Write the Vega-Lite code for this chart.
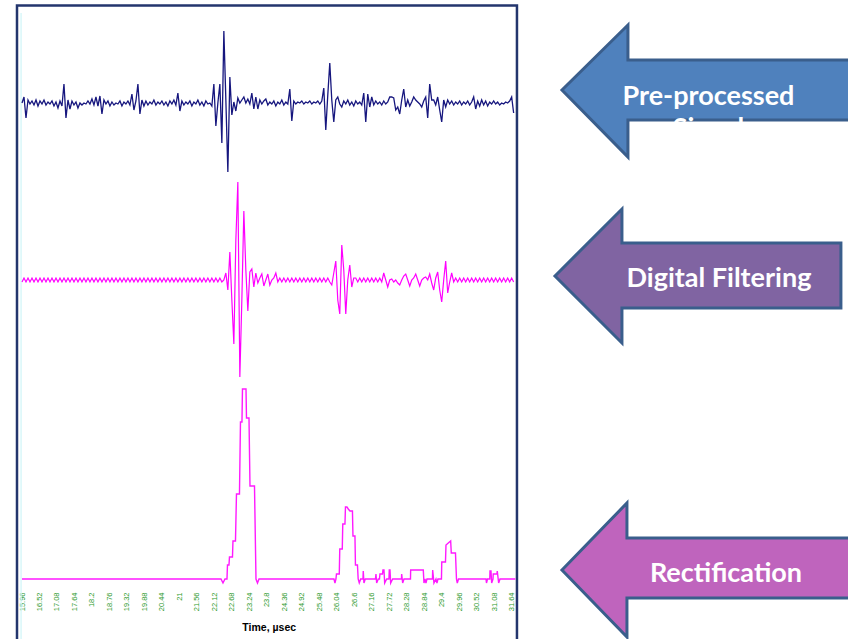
{
  "$schema": "https://vega.github.io/schema/vega-lite/v6.json",
  "width": 848,
  "height": 639,
  "autosize": {"type": "none"},
  "padding": 0,
  "background": "white",
  "config": {"view": {"stroke": null}},
  "datasets": {
    "signals": [
      {"t":15.96,"a":48.0,"b":30.1},{"t":16.024,"a":48.6,"b":30.5},{"t":16.088,"a":46.5,"b":30.1},{"t":16.152,"a":48.3,"b":30.5},{"t":16.216,"a":47.9,"b":30.1},{"t":16.28,"a":48.2,"b":30.5},{"t":16.344,"a":47.8,"b":30.1},{"t":16.408,"a":48.3,"b":30.5},{"t":16.472,"a":47.7,"b":30.1},{"t":16.536,"a":48.2,"b":30.5},
      {"t":16.6,"a":47.9,"b":30.1},{"t":16.664,"a":48.3,"b":30.5},{"t":16.728,"a":47.8,"b":30.1},{"t":16.792,"a":48.1,"b":30.5},{"t":16.856,"a":47.9,"b":30.1},{"t":16.92,"a":48.2,"b":30.5},{"t":16.984,"a":47.7,"b":30.1},{"t":17.048,"a":48.1,"b":30.5},{"t":17.112,"a":47.5,"b":30.1},{"t":17.176,"a":48.2,"b":30.5},
      {"t":17.24,"a":47.7,"b":30.1},{"t":17.304,"a":49.9,"b":30.5},{"t":17.368,"a":46.5,"b":30.1},{"t":17.432,"a":48.3,"b":30.5},{"t":17.496,"a":47.4,"b":30.1},{"t":17.56,"a":48.2,"b":30.5},{"t":17.624,"a":47.8,"b":30.1},{"t":17.688,"a":48.1,"b":30.5},{"t":17.752,"a":47.5,"b":30.1},{"t":17.816,"a":48.0,"b":30.5},
      {"t":17.88,"a":47.8,"b":30.1},{"t":17.944,"a":48.0,"b":30.5},{"t":18.008,"a":47.9,"b":30.1},{"t":18.072,"a":48.2,"b":30.5},{"t":18.136,"a":47.9,"b":30.1},{"t":18.2,"a":48.4,"b":30.5},{"t":18.264,"a":47.8,"b":30.1},{"t":18.328,"a":48.6,"b":30.5},{"t":18.392,"a":47.7,"b":30.1},{"t":18.456,"a":48.7,"b":30.5},
      {"t":18.52,"a":46.9,"b":30.1},{"t":18.584,"a":48.3,"b":30.5},{"t":18.648,"a":47.9,"b":30.1},{"t":18.712,"a":48.2,"b":30.5},{"t":18.776,"a":47.7,"b":30.1},{"t":18.84,"a":48.1,"b":30.5},{"t":18.904,"a":47.8,"b":30.1},{"t":18.968,"a":48.0,"b":30.5},{"t":19.032,"a":47.9,"b":30.1},{"t":19.096,"a":48.2,"b":30.5},
      {"t":19.16,"a":47.7,"b":30.1},{"t":19.224,"a":48.1,"b":30.5},{"t":19.288,"a":47.9,"b":30.1},{"t":19.352,"a":48.2,"b":30.5},{"t":19.416,"a":47.8,"b":30.1},{"t":19.48,"a":48.9,"b":30.5},{"t":19.544,"a":47.3,"b":30.1},{"t":19.608,"a":48.2,"b":30.5},{"t":19.672,"a":49.9,"b":30.1},{"t":19.736,"a":46.9,"b":30.5},
      {"t":19.8,"a":48.3,"b":30.1},{"t":19.864,"a":47.7,"b":30.5},{"t":19.928,"a":48.2,"b":30.1},{"t":19.992,"a":47.8,"b":30.5},{"t":20.056,"a":48.1,"b":30.1},{"t":20.12,"a":47.9,"b":30.5},{"t":20.184,"a":48.3,"b":30.1},{"t":20.248,"a":47.8,"b":30.5},{"t":20.312,"a":48.1,"b":30.1},{"t":20.376,"a":47.9,"b":30.5},
      {"t":20.44,"a":48.2,"b":30.1},{"t":20.504,"a":47.8,"b":30.5},{"t":20.568,"a":48.1,"b":30.1},{"t":20.632,"a":47.7,"b":30.5},{"t":20.696,"a":48.2,"b":30.1},{"t":20.76,"a":47.9,"b":30.5},{"t":20.824,"a":48.3,"b":30.1},{"t":20.888,"a":47.8,"b":30.5},{"t":20.952,"a":49.0,"b":30.1},{"t":21.016,"a":47.2,"b":30.5},
      {"t":21.08,"a":48.2,"b":30.1},{"t":21.144,"a":47.8,"b":30.5},{"t":21.208,"a":48.1,"b":30.1},{"t":21.272,"a":47.9,"b":30.5},{"t":21.336,"a":48.2,"b":30.1},{"t":21.4,"a":47.7,"b":30.5},{"t":21.464,"a":48.1,"b":30.1},{"t":21.528,"a":47.9,"b":30.5},{"t":21.592,"a":48.3,"b":30.1},{"t":21.656,"a":47.8,"b":30.5},
      {"t":21.72,"a":48.1,"b":30.1},{"t":21.784,"a":47.7,"b":30.5},{"t":21.848,"a":48.2,"b":30.1},{"t":21.912,"a":47.9,"b":30.5},{"t":21.976,"a":48.0,"b":30.1},{"t":22.04,"a":47.7,"b":30.5},{"t":22.104,"a":49.9,"b":30.1},{"t":22.168,"a":45.7,"b":30.5},{"t":22.232,"a":48.0,"b":30.1},{"t":22.296,"a":49.9,"b":30.5},
      {"t":22.36,"a":44.0,"b":30.1},{"t":22.424,"a":55.2,"b":30.3},{"t":22.488,"a":48.3,"b":31.0},{"t":22.552,"a":41.1,"b":29.3},{"t":22.616,"a":50.6,"b":33.1},{"t":22.68,"a":46.8,"b":28.3},{"t":22.744,"a":48.1,"b":23.9},{"t":22.808,"a":47.2,"b":34.3},{"t":22.872,"a":48.5,"b":40.1},{"t":22.936,"a":48.0,"b":20.6},
      {"t":23.0,"a":48.3,"b":28.3},{"t":23.064,"a":48.6,"b":37.2},{"t":23.128,"a":48.0,"b":31.3},{"t":23.192,"a":48.4,"b":27.2},{"t":23.256,"a":47.9,"b":31.1},{"t":23.32,"a":49.0,"b":31.4},{"t":23.384,"a":47.4,"b":29.6},{"t":23.448,"a":48.6,"b":31.0},{"t":23.512,"a":47.4,"b":30.0},{"t":23.576,"a":48.3,"b":30.5},
      {"t":23.64,"a":47.9,"b":30.9},{"t":23.704,"a":48.2,"b":29.7},{"t":23.768,"a":48.4,"b":30.3},{"t":23.832,"a":47.8,"b":30.9},{"t":23.896,"a":48.1,"b":29.8},{"t":23.96,"a":47.9,"b":30.3},{"t":24.024,"a":48.2,"b":30.5},{"t":24.088,"a":47.7,"b":31.0},{"t":24.152,"a":48.1,"b":30.1},{"t":24.216,"a":47.9,"b":30.5},
      {"t":24.28,"a":48.3,"b":30.1},{"t":24.344,"a":47.8,"b":30.5},{"t":24.408,"a":48.1,"b":30.1},{"t":24.472,"a":47.9,"b":30.5},{"t":24.536,"a":49.4,"b":30.1},{"t":24.6,"a":46.2,"b":30.5},{"t":24.664,"a":48.2,"b":30.1},{"t":24.728,"a":47.9,"b":30.5},{"t":24.792,"a":48.1,"b":30.1},{"t":24.856,"a":48.0,"b":30.5},
      {"t":24.92,"a":48.2,"b":30.1},{"t":24.984,"a":47.9,"b":30.5},{"t":25.048,"a":48.1,"b":30.1},{"t":25.112,"a":48.0,"b":30.5},{"t":25.176,"a":48.2,"b":30.1},{"t":25.24,"a":47.9,"b":30.5},{"t":25.304,"a":48.1,"b":30.1},{"t":25.368,"a":48.0,"b":30.5},{"t":25.432,"a":48.2,"b":30.1},{"t":25.496,"a":47.9,"b":30.5},
      {"t":25.56,"a":48.2,"b":30.1},{"t":25.624,"a":49.5,"b":30.5},{"t":25.688,"a":45.3,"b":30.1},{"t":25.752,"a":48.8,"b":30.5},{"t":25.816,"a":52.0,"b":30.1},{"t":25.88,"a":48.3,"b":29.8},{"t":25.944,"a":46.1,"b":31.0},{"t":26.008,"a":48.3,"b":32.2},{"t":26.072,"a":48.6,"b":28.3},{"t":26.136,"a":47.9,"b":26.9},
      {"t":26.2,"a":47.6,"b":33.8},{"t":26.264,"a":48.2,"b":31.3},{"t":26.328,"a":47.9,"b":26.9},{"t":26.392,"a":48.3,"b":30.3},{"t":26.456,"a":47.8,"b":31.8},{"t":26.52,"a":48.1,"b":29.6},{"t":26.584,"a":47.7,"b":30.5},{"t":26.648,"a":48.2,"b":30.5},{"t":26.712,"a":47.9,"b":30.1},{"t":26.776,"a":48.1,"b":30.5},
      {"t":26.84,"a":47.8,"b":30.1},{"t":26.904,"a":49.0,"b":30.5},{"t":26.968,"a":46.1,"b":30.1},{"t":27.032,"a":48.9,"b":30.5},{"t":27.096,"a":47.6,"b":30.1},{"t":27.16,"a":48.6,"b":30.5},{"t":27.224,"a":47.8,"b":30.1},{"t":27.288,"a":48.2,"b":30.5},{"t":27.352,"a":47.9,"b":30.1},{"t":27.416,"a":48.1,"b":30.5},
      {"t":27.48,"a":47.8,"b":30.1},{"t":27.544,"a":48.2,"b":31.0},{"t":27.608,"a":47.9,"b":30.3},{"t":27.672,"a":48.1,"b":29.6},{"t":27.736,"a":48.6,"b":30.3},{"t":27.8,"a":48.6,"b":30.4},{"t":27.864,"a":48.5,"b":30.1},{"t":27.928,"a":47.3,"b":30.3},{"t":27.992,"a":47.6,"b":30.0},{"t":28.056,"a":46.9,"b":29.8},
      {"t":28.12,"a":48.3,"b":30.3},{"t":28.184,"a":49.4,"b":30.7},{"t":28.248,"a":47.6,"b":30.9},{"t":28.312,"a":48.3,"b":30.3},{"t":28.376,"a":47.7,"b":29.7},{"t":28.44,"a":48.1,"b":30.3},{"t":28.504,"a":48.6,"b":30.5},{"t":28.568,"a":48.3,"b":30.9},{"t":28.632,"a":48.1,"b":30.3},{"t":28.696,"a":47.9,"b":29.7},
      {"t":28.76,"a":47.6,"b":30.3},{"t":28.824,"a":48.2,"b":30.5},{"t":28.888,"a":48.6,"b":30.6},{"t":28.952,"a":46.5,"b":30.3},{"t":29.016,"a":49.9,"b":30.9},{"t":29.08,"a":48.3,"b":30.0},{"t":29.144,"a":48.3,"b":29.3},{"t":29.208,"a":47.8,"b":30.5},{"t":29.272,"a":48.6,"b":31.1},{"t":29.336,"a":47.3,"b":29.3},
      {"t":29.4,"a":46.1,"b":28.1},{"t":29.464,"a":48.3,"b":30.3},{"t":29.528,"a":47.6,"b":32.2},{"t":29.592,"a":48.3,"b":29.0},{"t":29.656,"a":47.9,"b":30.1},{"t":29.72,"a":48.2,"b":31.0},{"t":29.784,"a":47.8,"b":30.1},{"t":29.848,"a":48.1,"b":30.5},{"t":29.912,"a":47.9,"b":30.1},{"t":29.976,"a":48.2,"b":30.5},
      {"t":30.04,"a":47.8,"b":30.1},{"t":30.104,"a":48.1,"b":30.5},{"t":30.168,"a":47.9,"b":30.1},{"t":30.232,"a":48.2,"b":30.5},{"t":30.296,"a":47.8,"b":30.1},{"t":30.36,"a":48.1,"b":30.5},{"t":30.424,"a":48.6,"b":30.1},{"t":30.488,"a":47.4,"b":30.5},{"t":30.552,"a":48.2,"b":30.1},{"t":30.616,"a":47.7,"b":30.5},
      {"t":30.68,"a":48.3,"b":30.1},{"t":30.744,"a":47.8,"b":30.5},{"t":30.808,"a":48.2,"b":30.1},{"t":30.872,"a":47.7,"b":30.5},{"t":30.936,"a":48.1,"b":30.1},{"t":31.0,"a":47.9,"b":30.5},{"t":31.064,"a":48.2,"b":30.1},{"t":31.128,"a":47.9,"b":30.5},{"t":31.192,"a":48.1,"b":30.1},{"t":31.256,"a":47.8,"b":30.5},
      {"t":31.32,"a":48.0,"b":30.1},{"t":31.384,"a":47.9,"b":30.5},{"t":31.448,"a":48.1,"b":30.1},{"t":31.512,"a":48.0,"b":30.5},{"t":31.576,"a":48.2,"b":30.1},{"t":31.64,"a":48.6,"b":30.5},{"t":31.704,"a":47.0,"b":30.1}
    ],
    "rectified": [
      {"t":15.96,"c":0.4},{"t":22.332,"c":0.4},{"t":22.396,"c":0.0},{"t":22.46,"c":0.4},{"t":22.524,"c":0.4},{"t":22.54,"c":1.8},{"t":22.588,"c":1.8},{"t":22.604,"c":2.6},{"t":22.7,"c":2.6},{"t":22.716,"c":4.2},
      {"t":22.796,"c":4.2},{"t":22.828,"c":8.9},{"t":22.924,"c":8.9},{"t":22.956,"c":16.1},{"t":23.004,"c":16.1},{"t":23.02,"c":19.4},{"t":23.133,"c":19.4},{"t":23.149,"c":16.5},{"t":23.229,"c":16.5},{"t":23.261,"c":9.7},
      {"t":23.405,"c":9.7},{"t":23.453,"c":0.4},{"t":23.501,"c":0.0},{"t":23.549,"c":0.4},{"t":25.95,"c":0.4},{"t":25.982,"c":0.0},{"t":26.014,"c":0.4},{"t":26.03,"c":0.9},{"t":26.12,"c":0.9},{"t":26.136,"c":3.4},
      {"t":26.216,"c":3.4},{"t":26.232,"c":5.9},{"t":26.302,"c":5.9},{"t":26.318,"c":7.6},{"t":26.366,"c":7.6},{"t":26.408,"c":7.4},{"t":26.462,"c":7.2},{"t":26.542,"c":7.2},{"t":26.558,"c":4.7},{"t":26.622,"c":4.7},
      {"t":26.638,"c":1.8},{"t":26.702,"c":1.8},{"t":26.725,"c":0.4},{"t":26.76,"c":0.0},{"t":26.805,"c":0.4},{"t":26.879,"c":0.4},{"t":26.888,"c":1.2},{"t":26.91,"c":0.0},{"t":26.952,"c":0.4},{"t":27.279,"c":0.4},
      {"t":27.295,"c":0.9},{"t":27.317,"c":0.0},{"t":27.369,"c":0.4},{"t":27.407,"c":0.4},{"t":27.423,"c":0.9},{"t":27.503,"c":0.9},{"t":27.519,"c":1.3},{"t":27.551,"c":1.3},{"t":27.574,"c":0.0},{"t":27.638,"c":0.4},
      {"t":27.711,"c":0.4},{"t":27.721,"c":1.3},{"t":27.744,"c":1.3},{"t":27.766,"c":0.0},{"t":27.83,"c":0.4},{"t":28.112,"c":0.4},{"t":28.118,"c":0.9},{"t":28.15,"c":0.0},{"t":28.192,"c":0.4},{"t":28.4,"c":0.4},
      {"t":28.406,"c":1.3},{"t":28.81,"c":1.3},{"t":28.832,"c":0.0},{"t":28.864,"c":0.4},{"t":28.896,"c":0.0},{"t":28.928,"c":0.4},{"t":29.104,"c":0.4},{"t":29.111,"c":1.3},{"t":29.152,"c":0.0},{"t":29.216,"c":0.4},
      {"t":29.248,"c":0.0},{"t":29.28,"c":0.4},{"t":29.392,"c":0.4},{"t":29.402,"c":2.1},{"t":29.521,"c":2.1},{"t":29.537,"c":3.8},{"t":29.611,"c":4.0},{"t":29.687,"c":4.2},{"t":29.707,"c":3.0},{"t":29.841,"c":3.0},
      {"t":29.873,"c":0.4},{"t":29.899,"c":0.0},{"t":29.938,"c":0.4},{"t":30.818,"c":0.4},{"t":30.834,"c":0.0},{"t":30.866,"c":0.4},{"t":30.94,"c":0.4},{"t":30.946,"c":1.2},{"t":30.978,"c":1.2},{"t":31.0,"c":0.0},
      {"t":31.042,"c":0.4},{"t":31.051,"c":0.9},{"t":31.17,"c":0.9},{"t":31.179,"c":1.2},{"t":31.224,"c":0.0},{"t":31.266,"c":0.4},{"t":31.76,"c":0.4}
    ],
    "arrows": [
      {"arrow":"a","i":0,"t":33.251,"v":49.3},{"arrow":"a","i":1,"t":35.364,"v":55.8},{"arrow":"a","i":2,"t":35.364,"v":52.3},{"arrow":"a","i":3,"t":42.537,"v":52.3},{"arrow":"a","i":4,"t":42.537,"v":46.3},{"arrow":"a","i":5,"t":35.364,"v":46.3},{"arrow":"a","i":6,"t":35.364,"v":42.6},
      {"arrow":"b","i":0,"t":33.027,"v":30.7},{"arrow":"b","i":1,"t":35.172,"v":37.4},{"arrow":"b","i":2,"t":35.172,"v":34.0},{"arrow":"b","i":3,"t":42.184,"v":34.0},{"arrow":"b","i":4,"t":42.184,"v":27.5},{"arrow":"b","i":5,"t":35.172,"v":27.5},{"arrow":"b","i":6,"t":35.172,"v":24.0},
      {"arrow":"c","i":0,"t":33.251,"v":1.3},{"arrow":"c","i":1,"t":35.332,"v":8.0},{"arrow":"c","i":2,"t":35.332,"v":4.5},{"arrow":"c","i":3,"t":42.537,"v":4.5},{"arrow":"c","i":4,"t":42.537,"v":-1.5},{"arrow":"c","i":5,"t":35.332,"v":-1.5},{"arrow":"c","i":6,"t":35.332,"v":-5.4}
    ],
    "labels": [
      {"label":"Pre-processed","t":37.942,"v":47.8},
      {"label":"Signal","t":37.942,"v":44.65},
      {"label":"Digital Filtering","t":38.278,"v":29.6},
      {"label":"Rectification","t":38.502,"v":0.1}
    ]
  },
  "encoding": {
    "x": {
      "field": "t",
      "type": "quantitative",
      "scale": {"domain": [15.96, 31.76], "range": [22, 515.4], "nice": false, "zero": false},
      "axis": {
        "values": [15.96,16.52,17.08,17.64,18.2,18.76,19.32,19.88,20.44,21,21.56,22.12,22.68,23.24,23.8,24.36,24.92,25.48,26.04,26.6,27.16,27.72,28.28,28.84,29.4,29.96,30.52,31.08,31.64],
        "format": ".2~f",
        "labelAngle": 270,
        "labelColor": "#2c9a2c",
        "labelFont": "Liberation Sans",
        "labelFontSize": 7.5,
        "labelPadding": 9,
        "labelFlush": false,
        "labelOverlap": false,
        "labelBound": false,
        "ticks": false,
        "domain": false,
        "grid": false,
        "offset": -56,
        "title": "Time, µsec",
        "titleFont": "Liberation Sans",
        "titleFontSize": 10.5,
        "titleFontWeight": "bold",
        "titleColor": "#000000",
        "titlePadding": 12
      }
    }
  },
  "layer": [
    {
      "data": {"values": [{"t": 15.8, "t2": 31.81, "v": 57.75, "v2": -6.2}]},
      "mark": {"type": "rect", "filled": false, "stroke": "#23356d", "strokeWidth": 2.5},
      "encoding": {
        "x2": {"field": "t2"},
        "y": {"field": "v", "type": "quantitative", "scale": {"domain": [0, 56.9], "range": [583, 14], "nice": false, "zero": false}, "axis": null},
        "y2": {"field": "v2"}
      }
    },
    {
      "data": {"values": [{"g": 56.9}, {"g": 43.6}, {"g": 13.5}, {"g": 0}]},
      "mark": {"type": "rule", "stroke": "#b8f0b8", "strokeWidth": 1, "strokeDash": [3, 2]},
      "encoding": {
        "x": {"datum": 15.96, "type": "quantitative"},
        "x2": {"datum": 31.76},
        "y": {"field": "g", "type": "quantitative", "scale": {"domain": [0, 56.9], "range": [583, 14], "nice": false, "zero": false}, "axis": null}
      }
    },
    {
      "data": {"values": [{"t": 15.93, "v": 57.0, "v2": -6.0}]},
      "mark": {"type": "rule", "stroke": "#cff5f8", "strokeWidth": 1.2},
      "encoding": {
        "y": {"field": "v", "type": "quantitative", "scale": {"domain": [0, 56.9], "range": [583, 14], "nice": false, "zero": false}, "axis": null},
        "y2": {"field": "v2"}
      }
    },
    {
      "data": {"name": "signals"},
      "mark": {"type": "line", "stroke": "#16167e", "strokeWidth": 1.3},
      "encoding": {
        "y": {"field": "a", "type": "quantitative", "scale": {"domain": [0, 56.9], "range": [583, 14], "nice": false, "zero": false}, "axis": null}
      }
    },
    {
      "data": {"name": "signals"},
      "mark": {"type": "line", "stroke": "#ff00ff", "strokeWidth": 1.2},
      "encoding": {
        "y": {"field": "b", "type": "quantitative", "scale": {"domain": [0, 56.9], "range": [583, 14], "nice": false, "zero": false}, "axis": null}
      }
    },
    {
      "data": {"name": "rectified"},
      "mark": {"type": "line", "stroke": "#ff1aff", "strokeWidth": 1.4},
      "encoding": {
        "y": {"field": "c", "type": "quantitative", "scale": {"domain": [0, 56.9], "range": [583, 14], "nice": false, "zero": false}, "axis": null}
      }
    },
    {
      "data": {"name": "arrows"},
      "transform": [{"filter": "datum.arrow === 'a'"}],
      "mark": {"type": "line", "interpolate": "linear-closed", "fill": "#4f81bd", "fillOpacity": 1, "stroke": "#3a5e8c", "strokeWidth": 3, "strokeJoin": "miter"},
      "encoding": {
        "y": {"field": "v", "type": "quantitative", "scale": {"domain": [0, 56.9], "range": [583, 14], "nice": false, "zero": false}, "axis": null},
        "order": {"field": "i", "type": "quantitative"}
      }
    },
    {
      "data": {"name": "arrows"},
      "transform": [{"filter": "datum.arrow === 'b'"}],
      "mark": {"type": "line", "interpolate": "linear-closed", "fill": "#8064a2", "fillOpacity": 1, "stroke": "#3a5e8c", "strokeWidth": 3, "strokeJoin": "miter"},
      "encoding": {
        "y": {"field": "v", "type": "quantitative", "scale": {"domain": [0, 56.9], "range": [583, 14], "nice": false, "zero": false}, "axis": null},
        "order": {"field": "i", "type": "quantitative"}
      }
    },
    {
      "data": {"name": "arrows"},
      "transform": [{"filter": "datum.arrow === 'c'"}],
      "mark": {"type": "line", "interpolate": "linear-closed", "fill": "#bf64bd", "fillOpacity": 1, "stroke": "#3a5e8c", "strokeWidth": 3, "strokeJoin": "miter"},
      "encoding": {
        "y": {"field": "v", "type": "quantitative", "scale": {"domain": [0, 56.9], "range": [583, 14], "nice": false, "zero": false}, "axis": null},
        "order": {"field": "i", "type": "quantitative"}
      }
    },
    {
      "data": {"name": "labels"},
      "mark": {"type": "text", "color": "#ffffff", "font": "Lato", "fontWeight": "bold", "fontSize": 27, "align": "center", "baseline": "alphabetic"},
      "encoding": {
        "y": {"field": "v", "type": "quantitative", "scale": {"domain": [0, 56.9], "range": [583, 14], "nice": false, "zero": false}, "axis": null},
        "text": {"field": "label"}
      }
    }
  ]
}
